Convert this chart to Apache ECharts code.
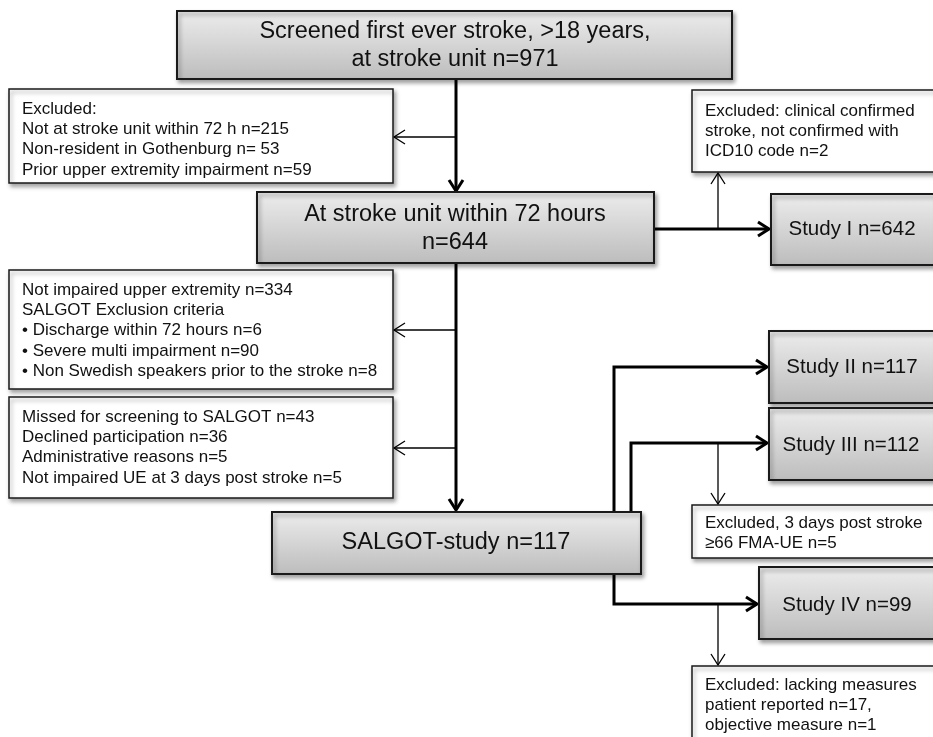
<!DOCTYPE html>
<html>
<head>
<meta charset="utf-8">
<script src="https://cdn.jsdelivr.net/npm/echarts@6/dist/echarts.min.js"></script>
<style>
	html, body { margin: 0; padding: 0; background: #fff; }
	#flow { width: 933px; height: 737px; }
</style>
</head>
<body>
<div id="flow"></div>
<script>
	'use strict';

	/* data */
	var stageText = ['Screened first ever stroke, >18 years,\nat stroke unit', 'At stroke unit within 72 hours', 'SALGOT-study'];
	var stageN = [971, 644, 117];
	var studyText = ['Study I', 'Study II', 'Study III', 'Study IV'];
	var studyN = [642, 117, 112, 99];
	var excludedScreen = ['Excluded:', 'Not at stroke unit within 72 h n=215', 'Non-resident in Gothenburg n= 53', 'Prior upper extremity impairment n=59'];
	var excludedIcd = ['Excluded: clinical confirmed', 'stroke, not confirmed with', 'ICD10 code n=2'];
	var excludedCriteria = ['Not impaired upper extremity n=334', 'SALGOT Exclusion criteria', '\u2022 Discharge within 72 hours n=6', '\u2022 Severe multi impairment n=90', '\u2022 Non Swedish speakers prior to the stroke n=8'];
	var excludedSalgot = ['Missed for screening to SALGOT n=43', 'Declined participation n=36', 'Administrative reasons n=5', 'Not impaired UE at 3 days post stroke n=5'];
	var excludedStudy3 = ['Excluded, 3 days post stroke', '\u226566 FMA-UE n=5'];
	var excludedStudy4 = ['Excluded: lacking measures', 'patient reported n=17,', 'objective measure n=1'];

	/* layout (page pixels) */
	var boxes = [
		{ x0: 177, y0: 11, x1: 732, y1: 79, kind: 'stage', size: 23.5, text: stageText[0] + ' n=' + stageN[0], tx: 455, ty: 46 },
		{ x0: 9, y0: 89, x1: 393, y1: 183, kind: 'note', lines: excludedScreen, tx: 22, ty: 109 },
		{ x0: 257, y0: 192, x1: 654, y1: 263, kind: 'stage', size: 23.5, text: stageText[1] + '\nn=' + stageN[1], tx: 455, ty: 229 },
		{ x0: 692, y0: 90, x1: 936, y1: 172, kind: 'note', lines: excludedIcd, tx: 705, ty: 111 },
		{ x0: 771, y0: 194, x1: 936, y1: 265, kind: 'stage', size: 20.5, text: studyText[0] + ' n=' + studyN[0], tx: 852, ty: 229 },
		{ x0: 9, y0: 270, x1: 393, y1: 389, kind: 'note', lines: excludedCriteria, tx: 22, ty: 290 },
		{ x0: 9, y0: 397, x1: 393, y1: 498, kind: 'note', lines: excludedSalgot, tx: 22, ty: 417 },
		{ x0: 272, y0: 512, x1: 641, y1: 574, kind: 'stage', size: 23.5, text: stageText[2] + ' n=' + stageN[2], tx: 456, ty: 543 },
		{ x0: 769, y0: 331, x1: 936, y1: 403, kind: 'stage', size: 20.5, text: studyText[1] + ' n=' + studyN[1], tx: 852, ty: 367 },
		{ x0: 769, y0: 408, x1: 936, y1: 480, kind: 'stage', size: 20.5, text: studyText[2] + ' n=' + studyN[2], tx: 851, ty: 445 },
		{ x0: 692, y0: 505, x1: 936, y1: 558, kind: 'note', lines: excludedStudy3, tx: 705, ty: 523 },
		{ x0: 759, y0: 567, x1: 936, y1: 639, kind: 'stage', size: 20.5, text: studyText[3] + ' n=' + studyN[3], tx: 847, ty: 605 },
		{ x0: 692, y0: 666, x1: 936, y1: 750, kind: 'note', lines: excludedStudy4, tx: 705, ty: 685 }
	];

	var arrows = [
		{ w: 3, pts: [[456, 79], [456, 191]] },
		{ w: 3, pts: [[456, 263], [456, 510]] },
		{ w: 3, pts: [[654, 229], [769, 229]] },
		{ w: 3, pts: [[614, 512], [614, 367], [767, 367]] },
		{ w: 3, pts: [[631, 512], [631, 443], [767, 443]] },
		{ w: 3, pts: [[614, 574], [614, 604], [757, 604]] },
		{ w: 1.3, pts: [[456, 137], [394, 137]] },
		{ w: 1.3, pts: [[456, 330], [394, 330]] },
		{ w: 1.3, pts: [[456, 448], [394, 448]] },
		{ w: 1.3, pts: [[718, 229], [718, 173]] },
		{ w: 1.3, pts: [[718, 443], [718, 504]] },
		{ w: 1.3, pts: [[718, 604], [718, 665]] }
	];

	var fontFamily = '"Liberation Sans", Arial, sans-serif';
	var grayFill = new echarts.graphic.LinearGradient(0, 0, 0, 1, [
		{ offset: 0, color: '#ededed' },
		{ offset: 1, color: '#bcbcbc' }
	]);

	function renderBox(params, api) {
		var b = boxes[api.value(4)];
		var p0 = api.coord([api.value(0), api.value(1)]);
		var p1 = api.coord([api.value(2), api.value(3)]);
		var t = api.coord([b.tx, b.ty]);
		var stage = b.kind === 'stage';
		var children = [{
			type: 'rect',
			shape: { x: p0[0], y: p0[1], width: p1[0] - p0[0], height: p1[1] - p0[1] },
			style: {
				fill: stage ? grayFill : '#fff',
				stroke: '#1a1a1a',
				lineWidth: stage ? 2 : 1.5,
				shadowBlur: 4,
				shadowOffsetX: 2,
				shadowOffsetY: 3,
				shadowColor: 'rgba(0,0,0,0.35)'
			}
		}];
		if (stage) {
			children.push({
				type: 'text',
				style: {
					text: b.text, x: t[0], y: t[1],
					fill: '#111', fontSize: b.size, fontFamily: fontFamily,
					align: 'center', verticalAlign: 'middle', lineHeight: 28
				}
			});
		} else {
			for (var i = 0; i < b.lines.length; i++) {
				children.push({
					type: 'text',
					style: {
						text: b.lines[i], x: t[0], y: t[1] + i * 20.4,
						fill: '#111', fontSize: 17, fontFamily: fontFamily,
						align: 'left', verticalAlign: 'middle'
					}
				});
			}
		}
		return { type: 'group', children: children };
	}

	function renderArrow(params, api) {
		var a = arrows[api.value(0)];
		var pts = a.pts.map(function (p) { return api.coord(p); });
		var tip = pts[pts.length - 1];
		var prev = pts[pts.length - 2];
		var dx = tip[0] - prev[0], dy = tip[1] - prev[1];
		var len = Math.sqrt(dx * dx + dy * dy);
		dx /= len; dy /= len;
		var hl = 11, hw = 7;
		var head = [
			[tip[0] - dx * hl - dy * hw, tip[1] - dy * hl + dx * hw],
			tip,
			[tip[0] - dx * hl + dy * hw, tip[1] - dy * hl - dx * hw]
		];
		return {
			type: 'group',
			children: [
				{ type: 'polyline', shape: { points: pts }, style: { stroke: '#000', lineWidth: a.w, fill: null } },
				{ type: 'polyline', shape: { points: head }, style: { stroke: '#000', lineWidth: a.w, fill: null, lineJoin: 'miter' } }
			]
		};
	}

	var option = {
		animation: false,
		backgroundColor: '#fff',
		grid: { left: 0, right: 0, top: 0, bottom: 0 },
		xAxis: { type: 'value', min: 0, max: 933, show: false },
		yAxis: { type: 'value', min: 0, max: 737, inverse: true, show: false },
		series: [
			{
				type: 'custom',
				renderItem: renderArrow,
				clip: false,
				silent: true,
				data: arrows.map(function (a, i) { return [i]; })
			},
			{
				type: 'custom',
				renderItem: renderBox,
				clip: false,
				silent: true,
				data: boxes.map(function (b, i) { return [b.x0, b.y0, b.x1, b.y1, i]; })
			}
		]
	};

	var flow = echarts.init(document.getElementById('flow'));
	flow.setOption(option);
</script>
</body>
</html>
